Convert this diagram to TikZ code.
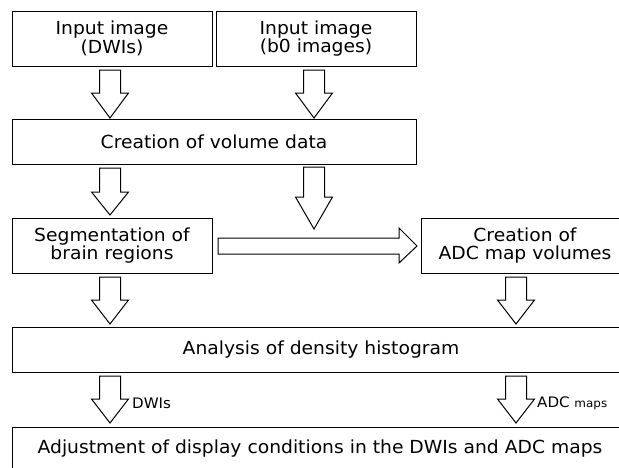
\documentclass[tikz,border=0pt]{standalone}
\usepackage{fontspec}
\setmainfont{DejaVu Sans}[FakeStretch=1.04]
\begin{document}
\begin{tikzpicture}[x=1pt,y=-1pt,
  box/.style={draw=black,line width=1pt,fill=white,rectangle,align=center,inner sep=0pt,
    font=\fontsize{18}{18.5}\selectfont},
  blk/.style={draw=black,line width=1pt,fill=white,line join=miter},
  lbl/.style={inner sep=0pt,anchor=west,font=\fontsize{14.5}{15}\selectfont}]
\useasboundingbox (0,0) rectangle (619,467);
\clip (0,0) rectangle (619,467);
\fill[white] (0,0) rectangle (619,467);
\newcommand\blockdown[4]{%
  \draw[blk] (#1-10.5,#2) -- (#1+10.5,#2) -- (#1+10.5,#3) -- (#1+18.5,#3) -- (#1,#4)
    -- (#1-18.5,#3) -- (#1-10.5,#3) -- cycle;}
\node[box,minimum width=200pt,minimum height=55pt] (b1) at (112,38.5) {Input image\\(DWIs)};
\node[box,minimum width=200pt,minimum height=55pt] (b2) at (316,38.5) {Input image\\(b0 images)};
\node[box,minimum width=404pt,minimum height=45pt] (b3) at (214,141.5) {Creation of volume data};
\node[box,minimum width=200pt,minimum height=55pt] (b4) at (112,245.5) {Segmentation of\\brain regions};
\node[box,minimum width=208pt,minimum height=55pt] (b5) at (525,245.5) {Creation of\\ADC map volumes};
\node[box,minimum width=618pt,minimum height=45pt] (b6) at (321,349.5) {Analysis of density histogram};
\node[box,minimum width=616pt,minimum height=44pt] (b7) at (320,449) {Adjustment of display conditions in the DWIs and ADC maps};
% block arrows
\blockdown{110}{70}{93}{118}
\blockdown{314}{70}{93}{118}
\blockdown{110}{168}{192}{215}
\blockdown{314}{167}{197}{229}
\blockdown{110}{277}{300}{324}
\blockdown{516}{277}{300}{324}
\blockdown{110}{376}{399}{423}
\blockdown{516}{376}{399}{423}
\draw[blk] (218,238) -- (399,238) -- (399,228) -- (417,246) -- (399,263) -- (399,254) -- (218,254) -- cycle;
\node[lbl] (l1) at (132,403) {DWIs};
\node[lbl] (l2) at (537,403) {ADC {\fontsize{11.5}{12}\selectfont maps}};
\end{tikzpicture}
\end{document}
